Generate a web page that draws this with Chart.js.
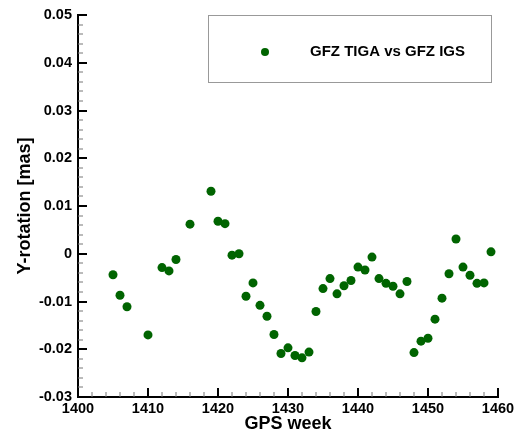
<!DOCTYPE html>
<html>
<head>
<meta charset="utf-8">
<script src="https://cdn.jsdelivr.net/npm/chart.js@4.4.0/dist/chart.umd.min.js"></script>
<style>
  html, body { margin: 0; padding: 0; background: #fff; }
  #wrap { width: 519px; height: 440px; }
</style>
</head>
<body>
<div id="wrap"><canvas id="grafico"></canvas></div>
<script>
// ---------------- DADOS ----------------
const semanas = [1405, 1406, 1407, 1410, 1412, 1413, 1414, 1416, 1419, 1420,
    1421, 1422, 1423, 1424, 1425, 1426, 1427, 1428, 1429, 1430,
    1431, 1432, 1433, 1434, 1435, 1436, 1437, 1438, 1439, 1440,
    1441, 1442, 1443, 1444, 1445, 1446, 1447, 1448, 1449, 1450,
    1451, 1452, 1453, 1454, 1455, 1456, 1457, 1458, 1459];
const rotacaoY = [-0.0044, -0.0087, -0.0111, -0.0170, -0.0029, -0.0036, -0.0012, 0.0062, 0.0131, 0.0068,
    0.0063, -0.0003, 0.0000, -0.0089, -0.0061, -0.0108, -0.0131, -0.0169, -0.0209, -0.0197,
    -0.0213, -0.0218, -0.0206, -0.0121, -0.0073, -0.0052, -0.0084, -0.0067, -0.0056, -0.0028,
    -0.0034, -0.0007, -0.0052, -0.0062, -0.0068, -0.0084, -0.0058, -0.0207, -0.0183, -0.0177,
    -0.0137, -0.0093, -0.0042, 0.0031, -0.0028, -0.0045, -0.0062, -0.0061, 0.0004];
const ticksX = [1400, 1410, 1420, 1430, 1440, 1450, 1460];
const ticksY = [-0.03, -0.02, -0.01, 0, 0.01, 0.02, 0.03, 0.04, 0.05];
const nomeSerie = "GFZ TIGA vs GFZ IGS";

const corPonto = "#006400";
const fonte = "'Liberation Sans', Arial, Helvetica, sans-serif";

// ---------------- PLUGINS ----------------
// ticks para dentro (maiores e menores), estilo Tecplot
const ticksInternos = {
    id: "ticksInternos",
    afterDraw(chart) {
        const { ctx, chartArea: a, scales: { x, y } } = chart;
        ctx.save();
        for (let v = ticksX[0]; v <= ticksX[ticksX.length - 1]; v += 2) {
            const px = Math.round(x.getPixelForValue(v));
            const maior = v % 10 === 0;
            ctx.strokeStyle = maior ? "#000" : "#777";
            ctx.lineWidth = maior ? 2 : 1;
            ctx.beginPath();
            ctx.moveTo(px, a.bottom);
            ctx.lineTo(px, a.bottom - (maior ? 9 : 5));
            ctx.stroke();
        }
        for (let i = 0; i <= 40; i++) {
            const v = ticksY[0] + i * 0.002;
            const py = Math.round(y.getPixelForValue(v));
            const maior = i % 5 === 0;
            ctx.strokeStyle = maior ? "#000" : "#777";
            ctx.lineWidth = maior ? 2 : 1;
            ctx.beginPath();
            ctx.moveTo(a.left, py);
            ctx.lineTo(a.left + (maior ? 9 : 5), py);
            ctx.stroke();
        }
        ctx.restore();
    }
};

// legenda em caixa dentro do gráfico
const legendaCaixa = {
    id: "legendaCaixa",
    afterDraw(chart) {
        const ctx = chart.ctx;
        ctx.save();
        ctx.strokeStyle = "#999";
        ctx.lineWidth = 1;
        ctx.strokeRect(208.5, 15.5, 283, 67);
        ctx.fillStyle = corPonto;
        ctx.beginPath();
        ctx.arc(265, 52, 4, 0, Math.PI * 2);
        ctx.fill();
        ctx.fillStyle = "#000";
        ctx.font = "bold 15px " + fonte;
        ctx.textBaseline = "middle";
        ctx.fillText(nomeSerie, 310, 52);
        ctx.restore();
    }
};

// ---------------- GRÁFICO ----------------
new Chart(document.getElementById("grafico"), {
    type: "scatter",
    data: {
        datasets: [{
            label: nomeSerie,
            data: semanas.map((s, i) => ({ x: s, y: rotacaoY[i] })),
            backgroundColor: corPonto,
            borderColor: corPonto,
            pointRadius: 4.5,
            pointBorderWidth: 0
        }]
    },
    options: {
        responsive: true,
        maintainAspectRatio: false,
        animation: false,
        layout: { padding: { top: 15, right: 21, left: 0, bottom: 0 } },
        plugins: {
            legend: { display: false },
            tooltip: { enabled: false }
        },
        scales: {
            x: {
                type: "linear",
                min: 1400,
                max: 1460,
                afterFit: s => { s.height = 43; },
                afterBuildTicks: s => { s.ticks = ticksX.map(v => ({ value: v })); },
                grid: { display: false, drawTicks: false },
                border: { display: true, color: "#000", width: 2 },
                ticks: {
                    color: "#000",
                    padding: 3,
                    maxRotation: 0,
                    font: { family: fonte, size: 14.5, weight: "bold" },
                    callback: v => String(v)
                },
                title: {
                    display: true,
                    text: "GPS week",
                    color: "#000",
                    padding: { top: 0, bottom: 5 },
                    font: { family: fonte, size: 18, weight: "bold" }
                }
            },
            y: {
                min: -0.03,
                max: 0.05,
                afterFit: s => { s.width = 78; },
                afterBuildTicks: s => { s.ticks = ticksY.map(v => ({ value: v })); },
                grid: { display: false, drawTicks: false },
                border: { display: true, color: "#000", width: 2 },
                ticks: {
                    color: "#000",
                    padding: 6,
                    font: { family: fonte, size: 14.5, weight: "bold" },
                    callback: v => Math.abs(v) < 1e-9 ? "0" : String(+v.toFixed(2))
                },
                title: {
                    display: true,
                    text: "Y-rotation [mas]",
                    color: "#000",
                    padding: { top: 14, bottom: 0 },
                    font: { family: fonte, size: 18, weight: "bold" }
                }
            }
        }
    },
    plugins: [ticksInternos, legendaCaixa]
});
</script>
</body>
</html>
